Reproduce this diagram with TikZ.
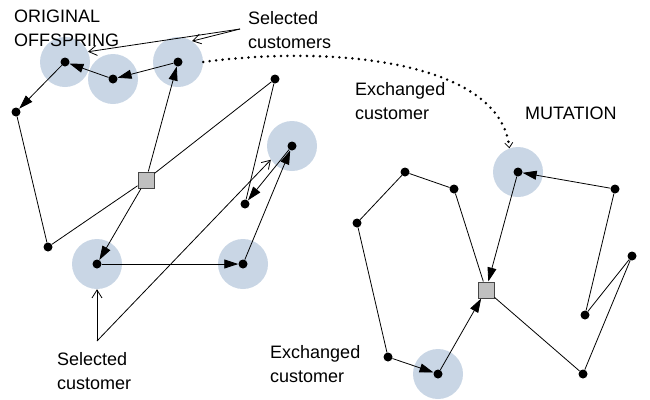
\documentclass[tikz,border=0pt]{standalone}
\usepackage{fontspec}
\setmainfont{Liberation Sans}
\usetikzlibrary{arrows.meta}
\definecolor{halofill}{RGB}{201,214,229}
\definecolor{depotfill}{RGB}{192,192,192}
\definecolor{depotline}{RGB}{70,70,70}

\begin{document}
\begin{tikzpicture}[x=1pt,y=-1pt,
  stop/.style={circle,fill=black,inner sep=0pt,minimum size=9pt},
  depot/.style={rectangle,fill=depotfill,draw=depotline,line width=1pt,minimum size=16pt,inner sep=0pt},
  halo/.style={circle,fill=halofill,minimum size=50pt,inner sep=0pt},
  route/.style={line width=0.8pt},
  leg/.style={route,-{Triangle[length=14pt,width=9pt]}},
  callout/.style={line width=0.8pt,-{Straight Barb[length=8pt,width=10pt,line width=0.8pt]}},
  transfer/.style={line width=2.8pt,line cap=round,dash pattern=on 0pt off 6.5pt,
    -{Straight Barb[length=5pt,width=8pt,line width=0.8pt]}},
  label/.style={anchor=north west,inner sep=0pt,align=left,font=\fontsize{18}{24}\selectfont}]

\useasboundingbox (0,0) rectangle (650,399);

% highlighted customers
\node[halo] (h1) at (65,62) {};
\node[halo] (h2) at (113,79) {};
\node[halo] (h3) at (178,62) {};
\node[halo] (h7) at (292,146) {};
\node[halo] (h9) at (97,264) {};
\node[halo] (h10) at (243,264) {};
\node[halo] (hb1) at (518,172) {};
\node[halo] (hb10) at (438,374) {};

% original offspring
\node[depot] (d1) at (146,180) {};
\node[stop] (a1) at (65,62) {};
\node[stop] (a2) at (113,79) {};
\node[stop] (a3) at (178,62) {};
\node[stop] (a4) at (16,112) {};
\node[stop] (a5) at (48,247) {};
\node[stop] (a6) at (275,79) {};
\node[stop] (a7) at (292,146) {};
\node[stop] (a8) at (245,204) {};
\node[stop] (a9) at (97,264) {};
\node[stop] (a10) at (243,264) {};

% mutated offspring
\node[depot] (d2) at (486,290) {};
\node[stop] (b1) at (518,172) {};
\node[stop] (b2) at (615,189) {};
\node[stop] (b3) at (632,256) {};
\node[stop] (b4) at (585,315) {};
\node[stop] (b5) at (583,374) {};
\node[stop] (b6) at (454,189) {};
\node[stop] (b7) at (405,172) {};
\node[stop] (b8) at (357,223) {};
\node[stop] (b9) at (388,357) {};
\node[stop] (b10) at (438,374) {};

% routes of the original offspring
\draw[leg] (d1) -- (a3);
\draw[leg] (a3) -- (a2);
\draw[leg] (a2) -- (a1);
\draw[leg] (a1) -- (a4);
\draw[route] (a4) -- (a5) -- (d1) -- (a6) -- (a8);
\draw[leg] (a7) -- (a8);
\draw[leg] (a10) -- (a7);
\draw[leg] (a9) -- (a10);
\draw[leg] (d1) -- (a9);

% routes after mutation
\draw[leg] (b2) -- (b1);
\draw[leg] (b1) -- (d2);
\draw[route] (d2) -- (b6) -- (b7) -- (b8) -- (b9);
\draw[leg] (b9) -- (b10);
\draw[leg] (b10) -- (d2);
\draw[route] (d2) -- (b5) -- (b3) -- (b4) -- (b2);

% labels
\node[label] (t1) at (14,10) {ORIGINAL\\OFFSPRING};
\node[label] (t2) at (248,11) {Selected\\customers};
\node[label] (t3) at (355,82) {Exchanged\\customer};
\node[label] (t4) at (525,107) {MUTATION};
\node[label] (t5) at (57,352) {Selected\\customer};
\node[label] (t6) at (270,345) {Exchanged\\customer};

% callouts
\coordinate (selA) at (240,29);
\draw[callout] (selA) -- (h3.56);
\draw[callout] (selA) -- (h1.24);
\coordinate (selB) at (97,341);
\draw[callout] (selB) -- (h9.south);
\draw[callout] (selB) -- (h7.213);

% exchange of the customer
\draw[transfer] (h3.east) .. controls (330,45) and (500,60) .. (hb1.110);
\end{tikzpicture}
\end{document}
